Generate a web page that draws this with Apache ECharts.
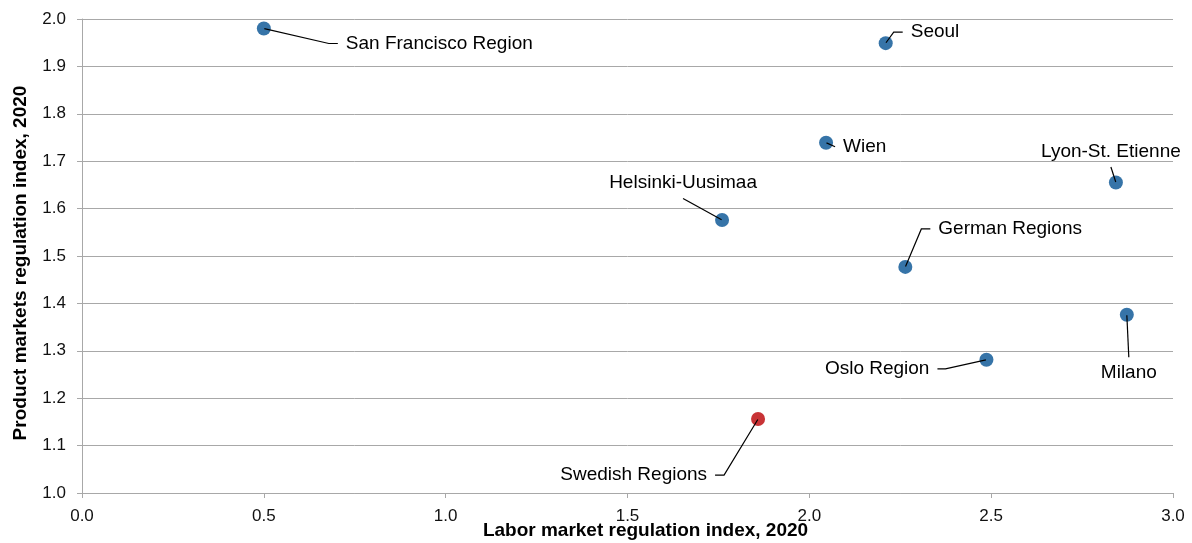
<!DOCTYPE html>
<html>
<head>
<meta charset="utf-8">
<script src="https://cdn.jsdelivr.net/npm/echarts@6/dist/echarts.min.js"></script>
<style>
  html, body { margin: 0; padding: 0; background: #ffffff; }
  #chart { width: 1192px; height: 543px; }
</style>
</head>
<body>
<div id="chart"></div>
<script>
// Regional regulation indices, 2020
const regions = ['San Francisco Region', 'Seoul', 'Wien', 'Lyon-St. Etienne', 'Helsinki-Uusimaa',
                 'German Regions', 'Milano', 'Oslo Region', 'Swedish Regions'];
const laborIndex   = [0.50, 2.21, 2.046, 2.843, 1.76, 2.264, 2.873, 2.487, 1.859];
const productIndex = [1.98, 1.949, 1.739, 1.655, 1.576, 1.477, 1.376, 1.281, 1.156];
const highlightedRegion = 'Swedish Regions';

const xTicks = { min: 0, max: 3, step: 0.5 };
const yTicks = { min: 1, max: 2, step: 0.1 };

// Where each callout label sits relative to its point (pixels), how it is aligned,
// and the short straight segment of its leader line next to the text
const labelPlacement = [
  { dx: 74,  dy: 15,  align: 'left',   elbow: 9 },
  { dx: 17,  dy: -11, align: 'left',   elbow: 9 },
  { dx: 9,   dy: 4,   align: 'left',   elbow: 0 },
  { dx: -5,  dy: -31, align: 'center', elbow: 0 },
  { dx: -39, dy: -37, align: 'center', elbow: 0 },
  { dx: 25,  dy: -38, align: 'left',   elbow: 9 },
  { dx: 2,   dy: 58,  align: 'center', elbow: 0 },
  { dx: -49, dy: 9,   align: 'right',  elbow: 8 },
  { dx: -43, dy: 56,  align: 'right',  elbow: 9 }
];

const BLUE = '#3674a8';
const RED = '#c83336';
const GRID = '#a8a8a8';
const FONT = 'Liberation Sans, Arial, sans-serif';

// Visible markers
const markers = regions.map((name, i) => ({
  name: name,
  value: [laborIndex[i], productIndex[i]],
  itemStyle: { color: name === highlightedRegion ? RED : BLUE, opacity: 1 }
}));

// Point-sized anchors carrying the callouts, so leader lines run into the marker centres
const anchors = regions.map((name, i) => ({
  name: name,
  value: [laborIndex[i], productIndex[i]],
  labelLine: { length2: labelPlacement[i].elbow }
}));

const chart = echarts.init(document.getElementById('chart'), null, { renderer: 'canvas' });

chart.setOption({
  animation: false,
  backgroundColor: '#ffffff',
  grid: { left: 82, right: 19, top: 19, bottom: 50, containLabel: false, outerBoundsMode: 'none' },
  xAxis: {
    type: 'value',
    min: xTicks.min, max: xTicks.max, interval: xTicks.step,
    name: 'Labor market regulation index, 2020',
    nameLocation: 'middle',
    nameGap: 28,
    nameMoveOverlap: false,
    nameTextStyle: { fontFamily: FONT, fontWeight: 'bold', fontSize: 19, color: '#000', padding: [0, 0, 0, 36] },
    axisLine: { show: true, lineStyle: { color: GRID, width: 1 } },
    axisTick: { show: true, length: 5, lineStyle: { color: GRID } },
    axisLabel: { margin: 15, fontFamily: FONT, fontSize: 17, color: '#111', formatter: v => v.toFixed(1) },
    splitLine: { show: false }
  },
  yAxis: {
    type: 'value',
    min: yTicks.min, max: yTicks.max, interval: yTicks.step,
    name: 'Product markets regulation index, 2020',
    nameLocation: 'middle',
    nameGap: 52,
    nameMoveOverlap: false,
    nameTextStyle: { fontFamily: FONT, fontWeight: 'bold', fontSize: 19, color: '#000', padding: [0, 14, 0, 0] },
    axisLine: { show: true, lineStyle: { color: GRID, width: 1 } },
    axisTick: { show: true, length: 5, lineStyle: { color: GRID } },
    axisLabel: { margin: 16, fontFamily: FONT, fontSize: 17, color: '#111', formatter: v => v.toFixed(1) },
    splitLine: { show: true, lineStyle: { color: GRID, width: 1 } }
  },
  series: [
    {
      type: 'scatter',
      z: 2,
      symbol: 'circle',
      symbolSize: 14,
      data: markers,
      label: { show: false }
    },
    {
      type: 'scatter',
      z: 6,
      zlevel: 0,
      symbol: 'circle',
      symbolSize: 1,
      silent: true,
      itemStyle: { color: '#000', opacity: 0.01 },
      data: anchors,
      label: {
        show: true,
        position: 'inside',
        formatter: p => p.name,
        fontFamily: FONT,
        fontSize: 19,
        color: '#000',
        opacity: 1,
        padding: [6, 8],
        // invisible box so the leader line stops short of the text
        backgroundColor: 'rgba(255,255,255,0)'
      },
      labelLine: {
        show: true,
        lineStyle: { color: '#000', width: 1.2, opacity: 1 },
        minTurnAngle: 0
      },
      labelLayout: function (params) {
        const p = labelPlacement[params.dataIndex];
        const cx = params.rect.x + params.rect.width / 2;
        const cy = params.rect.y + params.rect.height / 2;
        return { x: cx + p.dx, y: cy + p.dy, align: p.align, verticalAlign: 'middle' };
      }
    }
  ]
});
</script>
</body>
</html>
